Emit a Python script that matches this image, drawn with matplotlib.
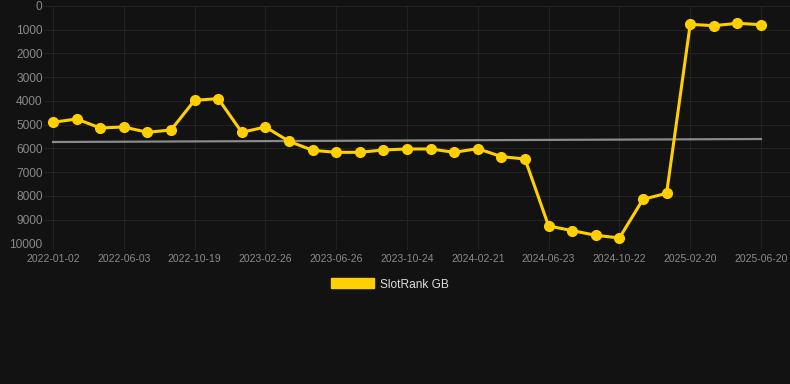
import matplotlib
matplotlib.use("Agg")
import matplotlib.pyplot as plt
import numpy as np
from matplotlib.patches import Patch

plt.rcParams["font.family"] = ["Liberation Sans", "DejaVu Sans"]

tick_labels = ["2022-01-02", "2022-06-03", "2022-10-19", "2023-02-26", "2023-06-26",
               "2023-10-24", "2024-02-21", "2024-06-23", "2024-10-22", "2025-02-20",
               "2025-06-20"]
rank = [4902, 4761, 5140, 5098, 5323, 5225, 3975, 3904, 5323, 5098,
        5702, 6081, 6166, 6166, 6067, 6025, 6025, 6166, 6011, 6348,
        6447, 9270, 9466, 9663, 9775, 8146, 7893, 772, 829, 730, 787]
trend_ends = [5731, 5605]
series_name = "SlotRank GB"

BG = "#121212"
W, H = 790, 384
fig = plt.figure(figsize=(W / 100, H / 100), dpi=100, facecolor=BG)
left_px, right_px, top_px, bot_px = 44, 790, 6, 243.3
ax = fig.add_axes([left_px / W, 1 - bot_px / H, (right_px - left_px) / W, (bot_px - top_px) / H])
ax.set_facecolor(BG)

x = np.arange(len(rank))
step = 708 / 30.0
ax.set_xlim(-(53 - left_px) / step, 30 + (right_px - 761) / step)
ax.set_ylim(10000, 0)

ax.plot([x[0], x[-1]], trend_ends, color="#8a8a8a", lw=1.6, zorder=2)
ax.plot(x, rank, color="#FFD000", lw=2.2, marker="o", ms=7, zorder=3)

ax.set_yticks(np.arange(0, 10001, 1000))
ax.set_yticklabels([str(v) for v in range(0, 10001, 1000)])
ax.set_xticks(x[::3])
ax.set_xticklabels(tick_labels)
ax.grid(True, color="#222222", lw=0.8, zorder=0)
for s in ax.spines.values():
    s.set_visible(False)
ax.tick_params(axis="y", length=0, pad=1, labelsize=8.6, labelcolor="#8a8a8a")
ax.tick_params(axis="x", length=4, color="#222222", pad=4, labelsize=7.5, labelcolor="#8a8a8a")

fig.legend(handles=[Patch(facecolor="#FFD000", edgecolor="#FFD000", label=series_name)],
           loc="center", bbox_to_anchor=(390 / W, 1 - 284.5 / H), frameon=False,
           handlelength=3.6, handleheight=0.9, handletextpad=0.5,
           fontsize=8.6, labelcolor="#dddddd")

fig.savefig("out.png", dpi=100, facecolor=BG)
